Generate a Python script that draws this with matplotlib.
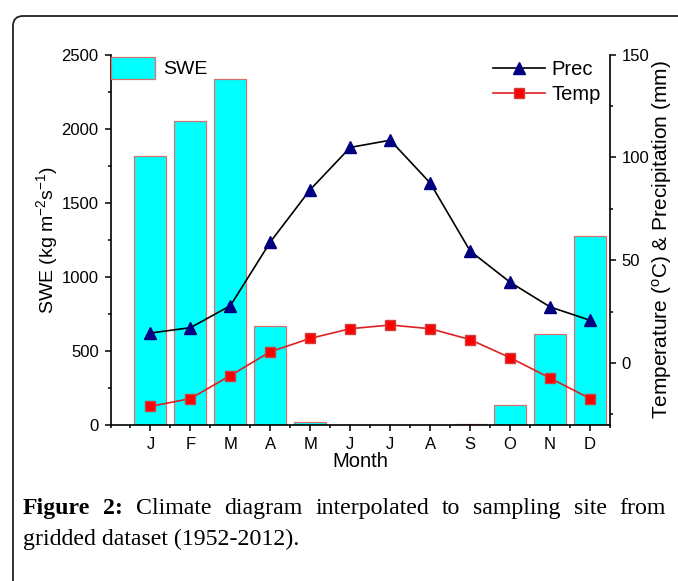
import matplotlib
matplotlib.use("Agg")
import matplotlib.pyplot as plt
from matplotlib.patches import FancyBboxPatch
from matplotlib.transforms import IdentityTransform
from matplotlib.ticker import MultipleLocator, FixedLocator
import numpy as np

# ---------------- DATA ----------------

months = ["J", "F", "M", "A", "M", "J", "J", "A", "S", "O", "N", "D"]
swe = [1815, 2054, 2336, 667, 20, 0, 0, 0, 7, 135, 613, 1277]
prec = [14.6, 17.2, 27.9, 58.9, 84.4, 104.9, 108.4, 87.6, 54.5, 39.3, 27.3, 20.8]
temp = [-21.1, -17.3, -6.1, 5.5, 12.0, 16.7, 18.5, 16.7, 11.4, 2.6, -7.3, -17.3]

caption_line1 = [("Figure", "bold"), ("2:", "bold"), ("Climate", "normal"),
                 ("diagram", "normal"), ("interpolated", "normal"), ("to", "normal"),
                 ("sampling", "normal"), ("site", "normal"), ("from", "normal")]
caption_line2 = "gridded dataset (1952-2012)."

# ---------------- STYLE ----------------

plt.rcParams["font.family"] = ["Liberation Sans", "DejaVu Sans"]
plt.rcParams["mathtext.fontset"] = "custom"
plt.rcParams["mathtext.rm"] = "Liberation Sans"
plt.rcParams["mathtext.it"] = "Liberation Sans:italic"

W, H = 678, 581
fig = plt.figure(figsize=(W / 100, H / 100), dpi=100)

ax = fig.add_axes([110.5 / W, 1 - 424.7 / H, (610 - 110.5) / W, (424.7 - 54.7) / H])
ax2 = ax.twinx()

x = np.arange(1, 13)

# ---------------- BARS (SWE) ----------------

ax.bar(x, swe, width=0.8, color="#00FFFF", edgecolor="#D87070", linewidth=0.9,
       label="SWE")
ax.set_xlim(0, 12.5)
ax.set_ylim(0, 2500)
ax.set_ylabel("SWE (kg m$^{-2}$s$^{-1}$)", fontsize=14, labelpad=1)
ax.set_xlabel("Month", fontsize=14.5, labelpad=0)

ax.set_xticks(x)
ax.set_xticklabels(months, fontsize=12)
ax.xaxis.set_minor_locator(FixedLocator(np.arange(0, 13, 0.5)))
ax.yaxis.set_major_locator(MultipleLocator(500))
ax.yaxis.set_minor_locator(MultipleLocator(250))
ax.tick_params(axis="both", which="major", direction="out", length=4.5, width=1.1,
               labelsize=12, pad=4)
ax.tick_params(axis="both", which="minor", direction="out", length=2.5, width=1.1)

for s in ["top", "right"]:
    ax.spines[s].set_visible(False)
for s in ["left", "bottom"]:
    ax.spines[s].set_linewidth(1.2)

# ---------------- LINES (PREC / TEMP) ----------------

ax2.plot(x, prec, color="black", linewidth=1.2, marker="^", markersize=8.5,
         markerfacecolor="#000080", markeredgecolor="#000080", label="Prec")
ax2.plot(x, temp, color="#E02020", linewidth=1.2, marker="s", markersize=7,
         markerfacecolor="#FF0000", markeredgecolor="#D04040", label="Temp")
ax2.set_ylim(-30, 150)
ax2.yaxis.set_major_locator(FixedLocator([0, 50, 100, 150]))
ax2.yaxis.set_minor_locator(FixedLocator([-25, 25, 75, 125]))
ax2.tick_params(axis="y", which="major", direction="out", length=4.5, width=1.1,
                labelsize=12, pad=4)
ax2.tick_params(axis="y", which="minor", direction="out", length=2.5, width=1.1)
ax2.set_ylabel("Temperature ($^{\\mathrm{o}}$C) & Precipitation (mm)", fontsize=15,
               labelpad=0)
for s in ["top", "left", "bottom"]:
    ax2.spines[s].set_visible(False)
ax2.spines["right"].set_linewidth(1.2)

# ---------------- LEGENDS ----------------

leg1 = ax.legend(loc="upper left", bbox_to_anchor=(0.0, 0.997), frameon=False,
                 fontsize=14, handlelength=2.25, handleheight=1.35, borderpad=0.05,
                 borderaxespad=0, handletextpad=0.4)
leg2 = ax2.legend(loc="upper right", bbox_to_anchor=(0.985, 0.99), frameon=False,
                  fontsize=14.5, handlelength=2.6, borderpad=0.1, borderaxespad=0,
                  handletextpad=0.3, labelspacing=0.3)

# ---------------- BORDER + CAPTION ----------------

box = FancyBboxPatch((13, -30), 720, H - 16 + 30, boxstyle="round,pad=0,rounding_size=10",
                     transform=IdentityTransform(), fill=False, edgecolor="#222222",
                     linewidth=1.3)
fig.add_artist(box)

renderer = fig.canvas.get_renderer()
cap_font = ["Liberation Serif", "DejaVu Serif"]
cap_size = 17.2
x0, x1 = 23, 666
y1 = 1 - 514 / H
y2 = 1 - 545 / H

texts = [fig.text(0, y1, w, fontsize=cap_size, family=cap_font, fontweight=fw,
                  ha="left", va="baseline") for w, fw in caption_line1]
widths = [t.get_window_extent(renderer).width for t in texts]
gap = (x1 - x0 - sum(widths)) / (len(texts) - 1)
pos = x0
for t, w in zip(texts, widths):
    t.set_x(pos / W)
    pos += w + gap

fig.text(x0 / W, y2, caption_line2, fontsize=cap_size, family=cap_font,
         ha="left", va="baseline")

fig.savefig("out.png", dpi=100)
